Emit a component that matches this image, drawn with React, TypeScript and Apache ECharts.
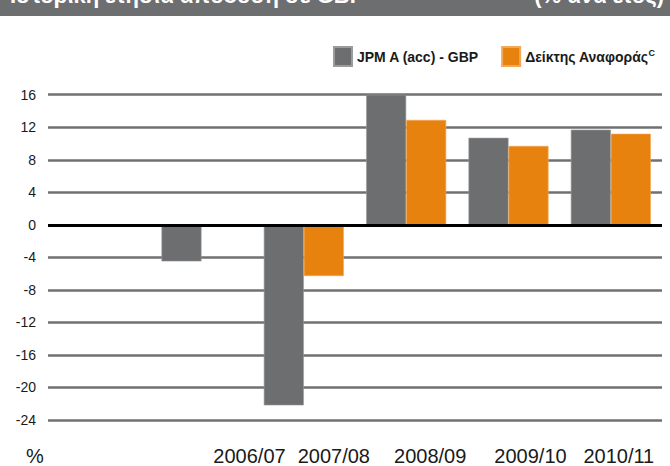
import React, { useEffect, useRef } from "react";
import * as echarts from "echarts";

const categories = ["", "2006/07", "2007/08", "2008/09", "2009/10", "2010/11"];
const fundName = "JPM A (acc) - GBP";
const benchName = "Δείκτης Αναφοράς";
const fundValues = [null, -4.5, -22.2, 16.0, 10.7, 11.7];
const benchValues = [null, null, -6.3, 12.9, 9.7, 11.2];
const yTicks = { min: -24, max: 16, interval: 4 };
const headerLeft = "Ιστορική ετήσια απόδοση σε GBP";
const headerRight = "(% ανά έτος)";
const unitLabel = "%";

// per-label horizontal shift of the category labels (layout only)
const labelShift = [0, 48, 30, 24, 22, 8];

const FONT = "'Liberation Sans', Arial, Helvetica, sans-serif";
const GRAY = "#6d6e70";
const ORANGE = "#e8820f";

export default function App() {
  const ref = useRef<HTMLDivElement>(null);
  useEffect(() => {
    if (!ref.current) return;
    const chart = echarts.init(ref.current, undefined, { renderer: "svg" });
    const rich: Record<string, any> = {};
    labelShift.forEach((s, i) => {
      rich["o" + i] = {
        fontFamily: FONT,
        fontSize: 20,
        color: "#1a1a1a",
        padding: [0, 0, 0, s * 2],
      };
    });
    chart.setOption({
      animation: false,
      backgroundColor: "#ffffff",
      textStyle: { fontFamily: FONT },
      grid: { left: 48, right: 8, top: 94.7, bottom: 45.3, containLabel: false },
      legend: {
        left: 333,
        top: 46,
        padding: 0,
        icon: "rect",
        itemWidth: 18,
        itemHeight: 19,
        itemGap: 22,
        data: [fundName, benchName],
        formatter: (n: string) => (n === benchName ? `{t|${n}}{sup|C}` : `{t|${n}}`),
        textStyle: {
          fontFamily: FONT,
          fontWeight: "bold",
          fontSize: 14,
          color: "#1a1a1a",
          rich: {
            t: { fontFamily: FONT, fontWeight: "bold", fontSize: 14, color: "#1a1a1a" },
            sup: {
              fontFamily: FONT,
              fontWeight: "bold",
              fontSize: 9,
              color: "#1a1a1a",
              padding: [0, 0, 8, 0],
            },
          },
        },
      },
      xAxis: {
        type: "category",
        data: categories,
        axisLine: { show: false },
        axisTick: { show: false },
        splitLine: { show: false },
        axisLabel: {
          interval: 0,
          margin: 26,
          formatter: (v: string, i: number) => `{o${i}|${v}}`,
          rich,
        },
      },
      yAxis: {
        type: "value",
        min: yTicks.min,
        max: yTicks.max,
        interval: yTicks.interval,
        axisLine: { show: false },
        axisTick: { show: false },
        axisLabel: { fontFamily: FONT, fontSize: 14, color: "#1a1a1a", margin: 12 },
        splitLine: { lineStyle: { color: "#707070", width: 2.6 } },
      },
      series: [
        {
          name: fundName,
          type: "bar",
          data: fundValues,
          barWidth: 40,
          barGap: "0%",
          itemStyle: { color: GRAY, borderColor: "#9a9b9d", borderWidth: 0.6 },
          markLine: {
            silent: true,
            symbol: "none",
            label: { show: false },
            lineStyle: { color: "#000000", width: 3.2, type: "solid" },
            data: [{ yAxis: 0 }],
            z: 10,
          },
        },
        {
          name: benchName,
          type: "bar",
          data: benchValues,
          barWidth: 40,
          barGap: "0%",
          itemStyle: { color: ORANGE, borderColor: "#f2a85a", borderWidth: 0.6 },
        },
      ],
      graphic: [
        {
          type: "rect",
          shape: { x: 0, y: 0, width: 670, height: 16 },
          style: { fill: GRAY },
          z: 100,
        },
        {
          type: "text",
          x: 10,
          y: 6,
          z: 101,
          style: {
            text: headerLeft,
            fill: "#ffffff",
            font: `bold 22px ${FONT}`,
            textAlign: "left",
            textVerticalAlign: "bottom",
          },
        },
        {
          type: "text",
          x: 664,
          y: 6,
          z: 101,
          style: {
            text: headerRight,
            fill: "#ffffff",
            font: `bold 22px ${FONT}`,
            textAlign: "right",
            textVerticalAlign: "bottom",
          },
        },
        {
          type: "text",
          x: 35,
          y: 446,
          style: {
            text: unitLabel,
            fill: "#1a1a1a",
            font: `20px ${FONT}`,
            textAlign: "center",
            textVerticalAlign: "top",
          },
        },
      ],
    });
    return () => chart.dispose();
  }, []);
  return (
    <div
      ref={ref}
      style={{ position: "fixed", left: 0, top: 0, width: 670, height: 466, background: "#fff" }}
    />
  );
}
